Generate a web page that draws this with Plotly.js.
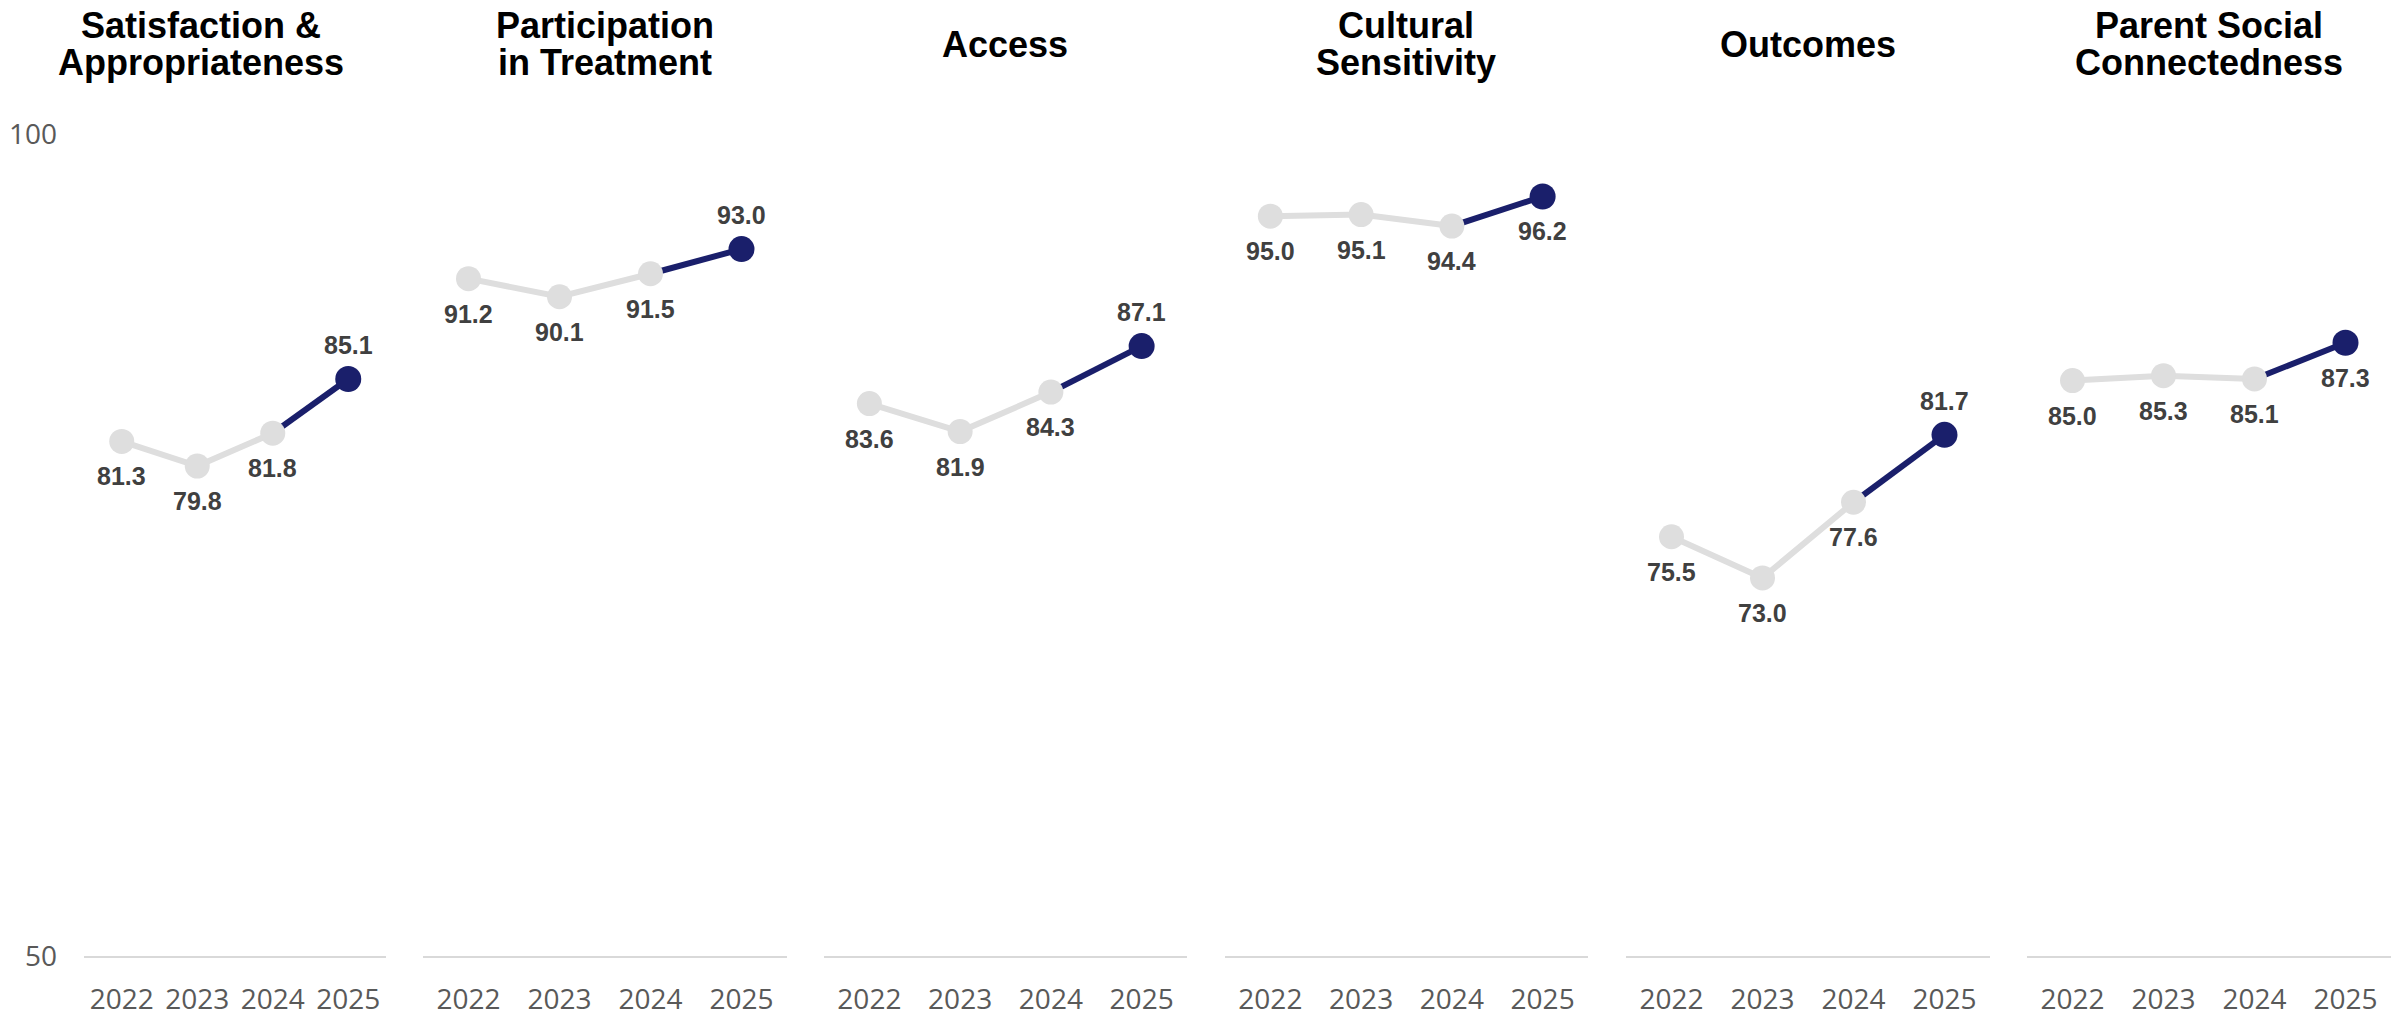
<!DOCTYPE html>
<html>
<head>
<meta charset="utf-8">
<script src="https://cdn.plot.ly/plotly-3.0.1.min.js"></script>
<style>html,body{margin:0;padding:0;background:#fff;}#chart{width:2402px;height:1016px;}</style>
</head>
<body>
<div id="chart"></div>
<script>
// ---- data ----
const years = ['2022', '2023', '2024', '2025'];
const satisfaction = [81.3, 79.8, 81.8, 85.1];
const participation = [91.2, 90.1, 91.5, 93.0];
const access = [83.6, 81.9, 84.3, 87.1];
const cultural = [95.0, 95.1, 94.4, 96.2];
const outcomes = [75.5, 73.0, 77.6, 81.7];
const parentSocial = [85.0, 85.3, 85.1, 87.3];
const panelTitles = [
  ['Satisfaction &', 'Appropriateness'],
  ['Participation', 'in Treatment'],
  ['Access'],
  ['Cultural', 'Sensitivity'],
  ['Outcomes'],
  ['Parent Social', 'Connectedness']
];
const lastLabelSide = ['above', 'above', 'above', 'below', 'above', 'below'];
const yTickVals = [50, 100];

// ---- style ----
const series = [satisfaction, participation, access, cultural, outcomes, parentSocial];
const W = 2402, H = 1016, MT = 134, MB = 60;
const PH = H - MT - MB;
const domainsPx = [[84, 386], [423, 787], [824, 1187], [1225, 1588], [1626, 1990], [2027, 2391]];
const titleXPx = [201, 605, 1005, 1406, 1808, 2209];
const GRAY = '#DEDEDE', NAVY = '#1A1F6B';
const LABEL_FONT = {family: 'Liberation Sans, Arial, sans-serif', size: 25, color: '#404040', weight: 'bold'};
const TICK_FONT = {family: 'Open Sans, Segoe UI, sans-serif', size: 28, color: '#595959'};
const TITLE_FONT = {family: 'Liberation Sans, Arial, sans-serif', size: 36, color: '#000000', weight: 'bold'};
const yPaper = p => (H - MB - p) / PH;

const traces = [];
const annotations = [];
const layout = {
  width: W, height: H,
  margin: {l: 0, r: 0, t: MT, b: MB},
  paper_bgcolor: '#ffffff', plot_bgcolor: '#ffffff',
  showlegend: false,
  font: TICK_FONT
};

series.forEach((vals, i) => {
  const n = i === 0 ? '' : String(i + 1);
  const xa = 'x' + n, ya = 'y' + n;
  layout['xaxis' + n] = {
    domain: [domainsPx[i][0] / W, domainsPx[i][1] / W],
    type: 'category', categoryarray: years, range: [-0.5, 3.5],
    showline: true, linecolor: '#D9D9D9', linewidth: 2,
    showgrid: false, zeroline: false, ticks: '',
    tickfont: TICK_FONT, ticklabelstandoff: 17, anchor: ya, fixedrange: true
  };
  layout['yaxis' + n] = {
    domain: [0, 1], range: [50, 100], anchor: xa,
    showgrid: false, zeroline: false, showline: false,
    tickvals: yTickVals, ticktext: yTickVals.map(String),
    showticklabels: i === 0, ticks: '', tickfont: TICK_FONT,
    ticklabelstandoff: 26, fixedrange: true
  };
  // navy segment 2024 -> 2025
  traces.push({
    x: years.slice(2), y: vals.slice(2), xaxis: xa, yaxis: ya,
    type: 'scatter', mode: 'lines', line: {color: NAVY, width: 6}, hoverinfo: 'skip'
  });
  // gray history
  traces.push({
    x: years.slice(0, 3), y: vals.slice(0, 3), xaxis: xa, yaxis: ya,
    type: 'scatter', mode: 'lines+markers',
    line: {color: GRAY, width: 6}, marker: {color: GRAY, size: 25},
    hoverinfo: 'skip'
  });
  // navy latest point
  traces.push({
    x: years.slice(3), y: vals.slice(3), xaxis: xa, yaxis: ya,
    type: 'scatter', mode: 'markers', marker: {color: NAVY, size: 26}, hoverinfo: 'skip'
  });
  // value labels (category axis annotations use the category index)
  vals.forEach((v, j) => {
    const above = j === 3 && lastLabelSide[i] === 'above';
    annotations.push({
      x: years.indexOf(years[j]), y: v, xref: xa, yref: ya,
      text: v.toFixed(1), showarrow: false, font: LABEL_FONT,
      xanchor: 'center', yanchor: 'middle', yshift: above ? 34 : -35
    });
  });
  // panel titles
  const lines = panelTitles[i];
  const centers = lines.length === 1 ? [44] : [26, 63];
  lines.forEach((t, k) => {
    annotations.push({
      x: titleXPx[i] / W, y: yPaper(centers[k]), xref: 'paper', yref: 'paper',
      text: t, showarrow: false, font: TITLE_FONT,
      xanchor: 'center', yanchor: 'middle'
    });
  });
});
layout.annotations = annotations;

Plotly.newPlot('chart', traces, layout, {staticPlot: true, displayModeBar: false});
</script>
</body>
</html>
